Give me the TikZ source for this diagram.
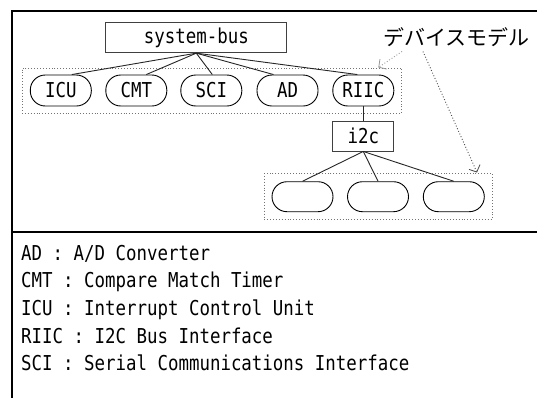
\documentclass[tikz,border=0pt]{standalone}
\usepackage{fontspec}
\setmonofont[FakeStretch=0.85]{DejaVu Sans Mono}
\newfontfamily\jpfont{Noto Sans CJK JP}
\usetikzlibrary{arrows.meta}
\begin{document}
\begin{tikzpicture}[x=1pt,y=-1pt,
  lbl/.style={font=\ttfamily\fontsize{20.5}{24}\selectfont, text=black},
  pill/.style={lbl, draw=black, line width=0.9pt, rounded corners=15pt,
    minimum width=61pt, minimum height=31pt, inner sep=0pt},
  box/.style={lbl, draw=black!75, line width=0.9pt, minimum height=30pt, inner sep=0pt},
  group/.style={draw=black!55, dash pattern=on 0.9pt off 2pt, line width=0.9pt,
    inner sep=0pt},
  wire/.style={draw=black!85, line width=0.9pt},
  note/.style={dash pattern=on 0.9pt off 2pt, line width=0.9pt,
    -{Straight Barb[length=5.5pt,width=12pt,line width=0.8pt]}},
  legend/.style={lbl, anchor=base west, inner sep=0pt}]

\useasboundingbox (0,0) rectangle (537,397);
\clip (0,0) rectangle (537,397);
\fill[white] (0,0) rectangle (537,397);

% outer frame and divider
\draw[line width=2pt] (12,11) rectangle (560,420);
\draw[line width=2pt] (12,231.5) -- (560,231.5);

% dotted device-model groups
\node[group, minimum width=379.7pt, minimum height=45.3pt] (grpA) at (211.85,90.65) {};
\node[group, minimum width=228pt, minimum height=46pt] (grpB) at (378.3,196.3) {};

% bus and devices
\node[box, minimum width=181pt] (bus) at (196.3,37.7) {system-bus};
\node[pill] (icu)  at (60.8,90.5)  {ICU};
\node[pill] (cmt)  at (136.3,90.5) {CMT};
\node[pill] (sci)  at (211.3,90.5) {SCI};
\node[pill] (ad)   at (287.5,90.5) {AD};
\node[pill] (riic) at (363.3,90.5) {RIIC};
\node[box, minimum width=61pt] (i2c) at (363.3,136) {i2c};
\node[pill, minimum height=30pt] (d1) at (302.5,196.7) {};
\node[pill, minimum height=30pt] (d2) at (378,196.7) {};
\node[pill, minimum height=30pt] (d3) at (453.8,196.7) {};

% connections
\draw[wire] (bus.south) -- ([xshift=11pt]icu.north);
\draw[wire] (bus.south) -- ([xshift=10pt]cmt.north);
\draw[wire] (bus.south) -- ([xshift=1pt]sci.north);
\draw[wire] (bus.south) -- ([xshift=-14pt]ad.north);
\draw[wire] (bus.south) -- ([xshift=-6pt]riic.north);
\draw[wire] (riic.south) -- (i2c.north);
\draw[wire] (i2c.south) -- (d1.north);
\draw[wire] (i2c.south) -- (d2.north);
\draw[wire] (i2c.south) -- (d3.north);

% label with pointers to the groups
\node[font=\jpfont\fontsize{21}{24}\selectfont, inner sep=0pt] (tag) at (456.7,37.5) {デバイスモデル};
\coordinate (tagA) at (402,51.5);
\coordinate (tagB) at (423,51.5);
\coordinate (tipA) at (378.3,67.5);
\coordinate (tipB) at (477,172.5);
\draw[note, draw=black!40] (tagA) -- (tipA);
\draw[note, draw=black!70] (tagB) -- (tipB);

% legend
\node[legend] (l1) at (21,260)   {AD : A/D Converter};
\node[legend] (l2) at (21,287.7) {CMT : Compare Match Timer};
\node[legend] (l3) at (21,315.3) {ICU : Interrupt Control Unit};
\node[legend] (l4) at (21,343)   {RIIC : I2C Bus Interface};
\node[legend] (l5) at (21,370.7) {SCI : Serial Communications Interface};
\end{tikzpicture}
\end{document}
